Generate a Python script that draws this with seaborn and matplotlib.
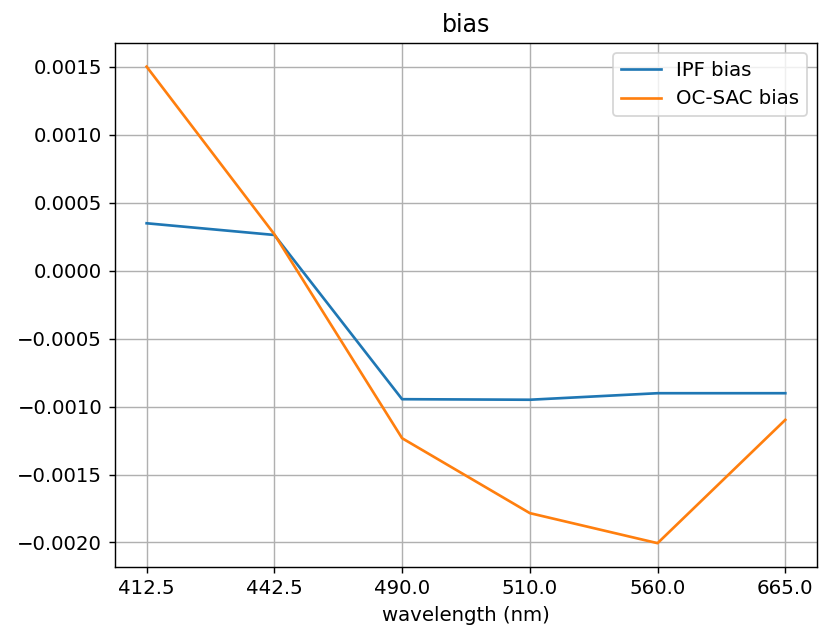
import matplotlib
matplotlib.use("Agg")
import matplotlib.pyplot as plt
import seaborn as sns
import pandas as pd

wavelengths = ["412.5", "442.5", "490.0", "510.0", "560.0", "665.0"]
ipf_bias = [0.000348, 0.000262, -0.000946, -0.000950, -0.000902, -0.000902]
ocsac_bias = [0.001500, 0.000267, -0.001233, -0.001784, -0.002005, -0.001098]

plt.rcParams['font.family'] = ['DejaVu Sans']
plt.rcParams['font.size'] = 11.1

pos = list(range(len(wavelengths)))
df = pd.DataFrame({"pos": pos, "IPF bias": ipf_bias, "OC-SAC bias": ocsac_bias})

fig, ax = plt.subplots(figsize=(6.4, 4.922), dpi=128)
sns.lineplot(data=df, x="pos", y="IPF bias", ax=ax, color="tab:blue", label="IPF bias")
sns.lineplot(data=df, x="pos", y="OC-SAC bias", ax=ax, color="tab:orange", label="OC-SAC bias")

ax.set_xticks(pos)
ax.set_xticklabels(wavelengths)
ax.set_xlabel("wavelength (nm)")
ax.set_ylabel("")
ax.set_title("bias")
ax.grid(True)
ax.legend(loc="upper right")
fig.subplots_adjust(left=0.140, right=0.9976, top=0.932, bottom=0.100)
fig.savefig("out.png", dpi=128)
